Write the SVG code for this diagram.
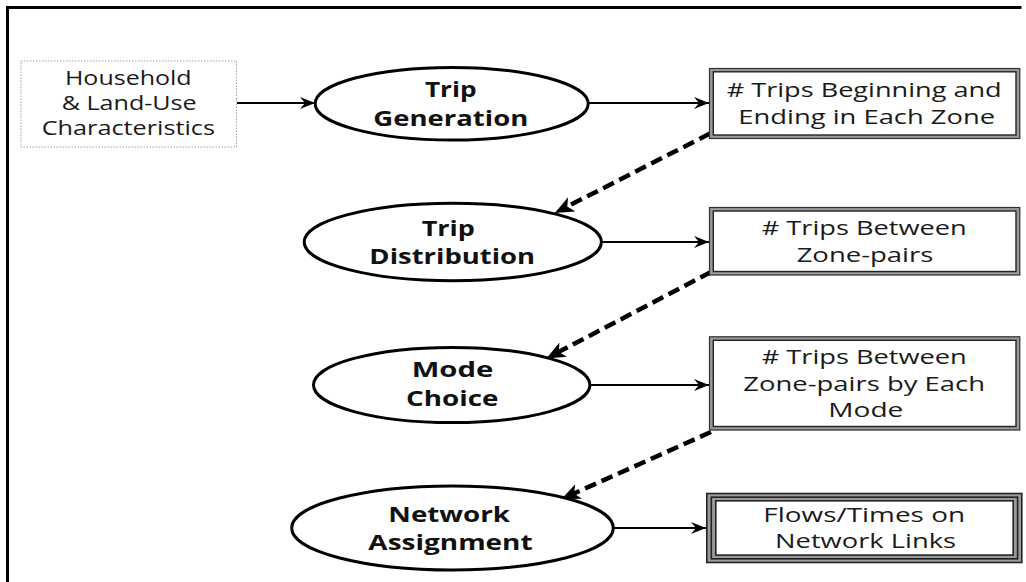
<svg xmlns="http://www.w3.org/2000/svg" width="1026" height="582" viewBox="0 0 1026 582">
<style>
.t{font-family:"Open Sans","DejaVu Sans",sans-serif;font-size:20px;fill:#1a1a1a;text-anchor:middle}
.b{font-family:"Open Sans","DejaVu Sans",sans-serif;font-size:21px;font-weight:bold;fill:#111;text-anchor:middle}
.ell{fill:#fff;stroke:#000;stroke-width:3}
.solid{stroke:#000;stroke-width:1.8;fill:none}
.dash{stroke:#000;stroke-width:4.5;fill:none;stroke-dasharray:12 6}
</style>
<defs>
<marker id="arr" markerUnits="userSpaceOnUse" markerWidth="16" markerHeight="14" viewBox="0 0 16 14" refX="15" refY="7" orient="auto">
<path d="M0,1 L15,7 L0,13 L5,7 z" fill="#000"/>
</marker>
<marker id="darr" markerUnits="userSpaceOnUse" markerWidth="20" markerHeight="18" viewBox="0 0 20 18" refX="8" refY="9" orient="auto">
<path d="M0,1 L19,9 L0,17 L5,9 z" fill="#000"/>
</marker>
</defs>
<rect width="1026" height="582" fill="#fff"/>
<g id="frame">
<path d="M7.5,590 V7.5 H1021.5" fill="none" stroke="#000" stroke-width="3"/>
</g>
<g id="connectors">
<line class="solid" x1="237" y1="103" x2="315" y2="103" marker-end="url(#arr)"/>
<line class="solid" x1="589" y1="103" x2="709" y2="103" marker-end="url(#arr)"/>
<line class="solid" x1="602" y1="242" x2="709" y2="242" marker-end="url(#arr)"/>
<line class="solid" x1="590" y1="385" x2="709" y2="385" marker-end="url(#arr)"/>
<line class="solid" x1="614" y1="528" x2="706" y2="528" marker-end="url(#arr)"/>
<line class="dash" x1="710" y1="133.5" x2="564.6" y2="207.9" marker-end="url(#darr)"/>
<line class="dash" x1="711" y1="272" x2="556.1" y2="353.3" marker-end="url(#darr)"/>
<line class="dash" x1="711" y1="432" x2="571.3" y2="494.7" marker-end="url(#darr)"/>
</g>
<g id="household">
<rect x="21" y="61" width="215.5" height="86" fill="#fff" stroke="#a0a0a0" stroke-width="1" stroke-dasharray="1.5 1.5"/>
<text class="t" x="128.3" y="85" textLength="126.7" lengthAdjust="spacingAndGlyphs">Household</text>
<text class="t" x="129.2" y="110" textLength="135" lengthAdjust="spacingAndGlyphs">&amp; Land-Use</text>
<text class="t" x="128.3" y="135" textLength="173.3" lengthAdjust="spacingAndGlyphs">Characteristics</text>
</g>
<g id="trip-generation">
<ellipse class="ell" cx="451.7" cy="103.7" rx="136.5" ry="36.3"/>
<text class="b" x="450.8" y="97" textLength="51.7" lengthAdjust="spacingAndGlyphs">Trip</text>
<text class="b" x="450.8" y="125.5" textLength="155" lengthAdjust="spacingAndGlyphs">Generation</text>
</g>
<g id="trip-distribution">
<ellipse class="ell" cx="452.8" cy="242" rx="148.6" ry="38.7"/>
<text class="b" x="448.3" y="235.5" textLength="53.3" lengthAdjust="spacingAndGlyphs">Trip</text>
<text class="b" x="452.2" y="263.5" textLength="165.7" lengthAdjust="spacingAndGlyphs">Distribution</text>
</g>
<g id="mode-choice">
<ellipse class="ell" cx="451.7" cy="385" rx="138.2" ry="37.6"/>
<text class="b" x="452.5" y="377" textLength="81.7" lengthAdjust="spacingAndGlyphs">Mode</text>
<text class="b" x="452.2" y="405.5" textLength="92.3" lengthAdjust="spacingAndGlyphs">Choice</text>
</g>
<g id="network-assignment">
<ellipse class="ell" cx="452.5" cy="528" rx="160.8" ry="42"/>
<text class="b" x="449.2" y="522" textLength="121.7" lengthAdjust="spacingAndGlyphs">Network</text>
<text class="b" x="450.5" y="549.5" textLength="164.3" lengthAdjust="spacingAndGlyphs">Assignment</text>
</g>
<g id="trips-zone">
<rect x="711.3" y="70" width="306.7" height="66.7" fill="#fff" stroke="#9a9a9a" stroke-width="4"/>
<rect x="709.5" y="68.5" width="310.3" height="70" fill="none" stroke="#333" stroke-width="1.2"/>
<rect x="713.3" y="71.8" width="302.7" height="63.2" fill="#fff" stroke="#222" stroke-width="1.4"/>
<text class="t" x="864.2" y="97" textLength="275" lengthAdjust="spacingAndGlyphs"># Trips Beginning and</text>
<text class="t" x="866.7" y="123.5" textLength="256.7" lengthAdjust="spacingAndGlyphs">Ending in Each Zone</text>
</g>
<g id="trips-pairs">
<rect x="711.3" y="209.2" width="306.7" height="64" fill="#fff" stroke="#9a9a9a" stroke-width="4"/>
<rect x="709.5" y="207.5" width="310.3" height="67.5" fill="none" stroke="#333" stroke-width="1.2"/>
<rect x="713.3" y="211" width="302.7" height="60.5" fill="#fff" stroke="#222" stroke-width="1.4"/>
<text class="t" x="864.2" y="235" textLength="205" lengthAdjust="spacingAndGlyphs"># Trips Between</text>
<text class="t" x="865" y="261.7" textLength="136.7" lengthAdjust="spacingAndGlyphs">Zone-pairs</text>
</g>
<g id="trips-mode">
<rect x="711.3" y="338.5" width="306.7" height="89.7" fill="#fff" stroke="#9a9a9a" stroke-width="4"/>
<rect x="709.5" y="336.8" width="310.3" height="93.2" fill="none" stroke="#333" stroke-width="1.2"/>
<rect x="713.3" y="340.3" width="302.7" height="86.2" fill="#fff" stroke="#222" stroke-width="1.4"/>
<text class="t" x="864.2" y="364" textLength="205" lengthAdjust="spacingAndGlyphs"># Trips Between</text>
<text class="t" x="864.2" y="390.7" textLength="241.7" lengthAdjust="spacingAndGlyphs">Zone-pairs by Each</text>
<text class="t" x="865.8" y="416.7" textLength="75" lengthAdjust="spacingAndGlyphs">Mode</text>
</g>
<g id="flows">
<rect x="706.8" y="493.5" width="315" height="69" fill="#9a9a9a" stroke="#222" stroke-width="1.6"/>
<rect x="711.3" y="497.2" width="306.3" height="61.6" fill="#9a9a9a" stroke="#222" stroke-width="1.6"/>
<rect x="715.8" y="500.8" width="297.4" height="54.3" fill="#fff" stroke="#222" stroke-width="1.6"/>
<text class="t" x="864.2" y="521.7" textLength="201.7" lengthAdjust="spacingAndGlyphs">Flows/Times on</text>
<text class="t" x="865.5" y="548.3" textLength="181" lengthAdjust="spacingAndGlyphs">Network Links</text>
</g>
</svg>
